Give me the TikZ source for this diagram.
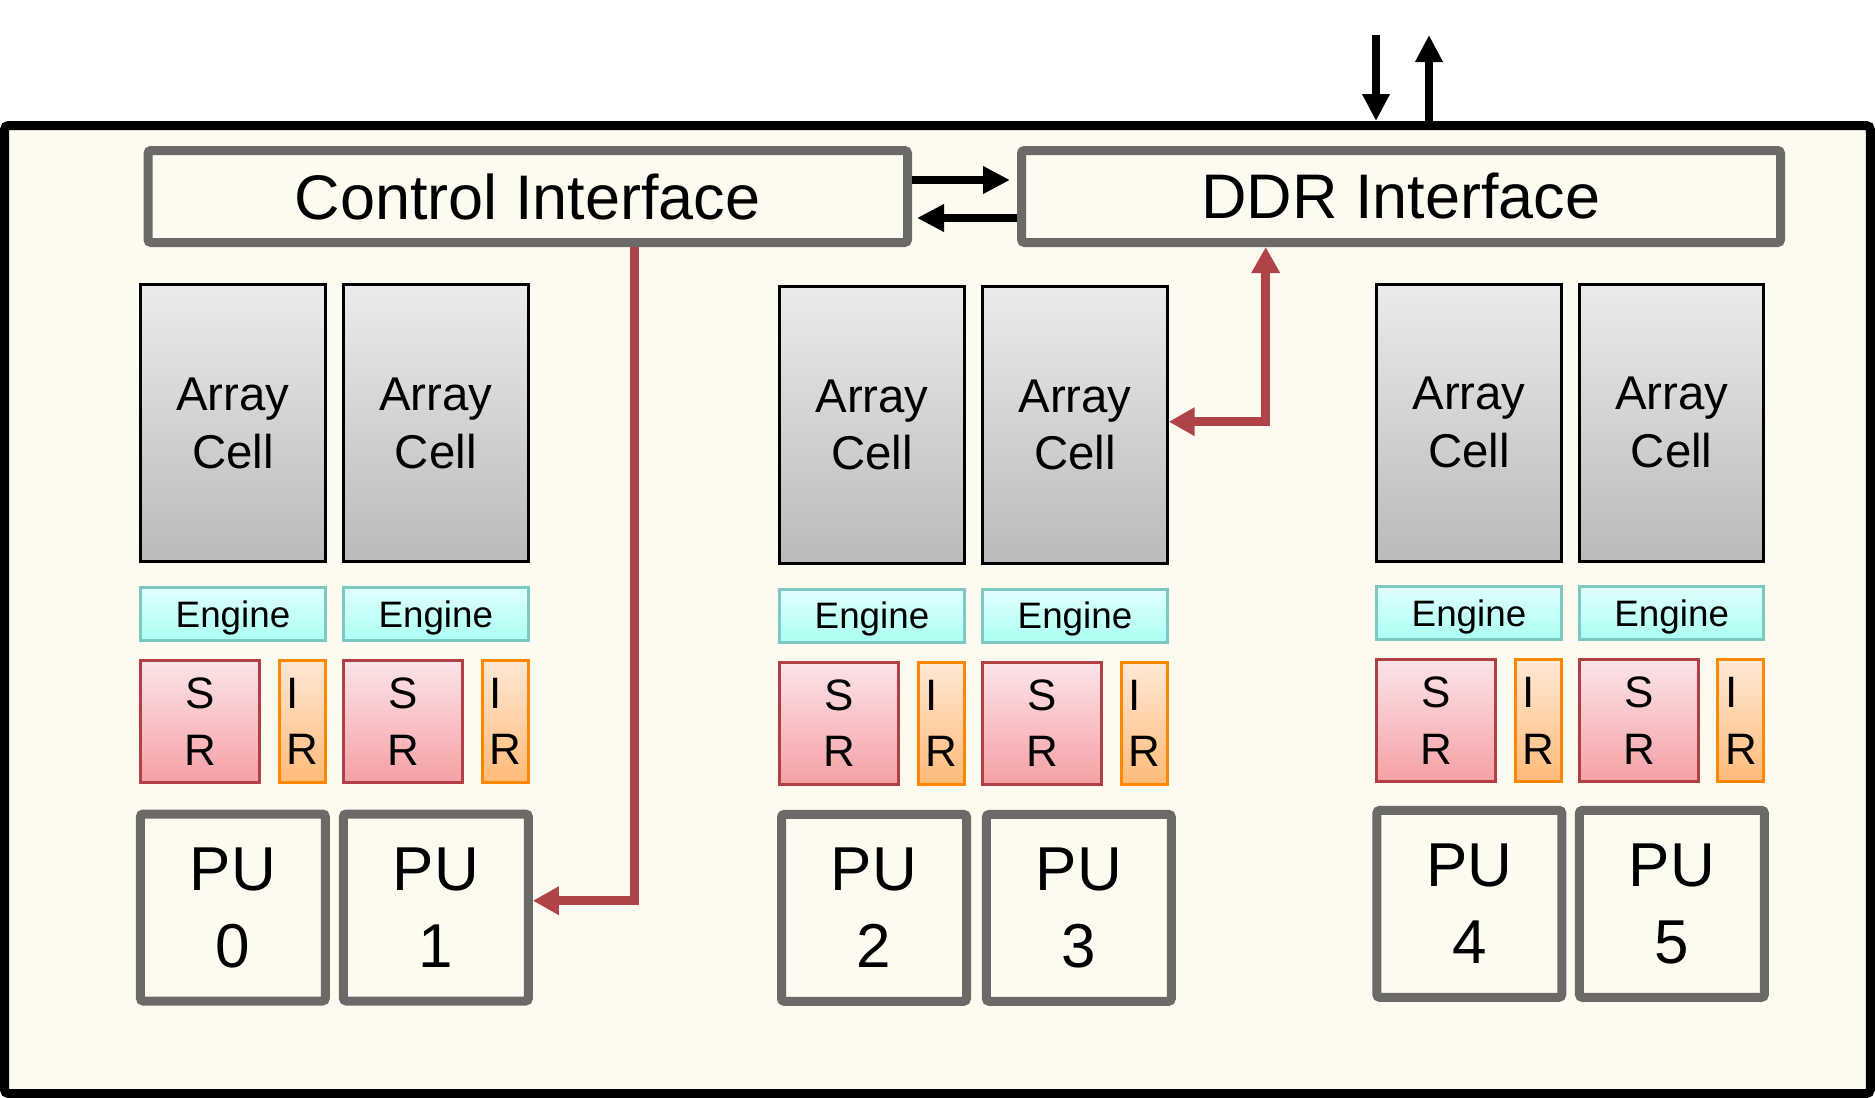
\documentclass[tikz,border=0pt]{standalone}
\usepackage{fontspec}
\setmainfont{Liberation Sans}
\usetikzlibrary{arrows.meta}
\definecolor{bgc}{RGB}{253,250,240}
\definecolor{framec}{RGB}{107,106,102}
\definecolor{redl}{RGB}{175,67,72}
\definecolor{cellT}{RGB}{235,235,235}
\definecolor{cellB}{RGB}{186,186,186}
\definecolor{engT}{RGB}{225,255,255}
\definecolor{engB}{RGB}{170,255,242}
\definecolor{engD}{RGB}{125,200,192}
\definecolor{srT}{RGB}{252,228,232}
\definecolor{srB}{RGB}{245,160,165}
\definecolor{srD}{RGB}{176,64,70}
\definecolor{irT}{RGB}{255,232,214}
\definecolor{irB}{RGB}{255,186,120}
\definecolor{irD}{RGB}{255,136,0}
\begin{document}
\begin{tikzpicture}[x=0.5pt,y=-0.5pt,
  chipbox/.style={draw=black,line width=4.5pt,fill=bgc,rounded corners=2pt,inner sep=0pt},
  ifbox/.style={draw=framec,line width=4.5pt,fill=bgc,rounded corners=1.5pt,inner sep=0pt,
    minimum height=46pt,font=\fontsize{31.5pt}{38pt}\selectfont},
  cellbox/.style={draw=black,line width=1.5pt,top color=cellT,bottom color=cellB,
    minimum width=92.2pt,minimum height=138.5pt,inner sep=0pt,align=center,
    font=\fontsize{23.7pt}{28.8pt}\selectfont},
  engbox/.style={draw=engD,line width=1.5pt,top color=engT,bottom color=engB,
    minimum width=92.2pt,minimum height=26.5pt,inner sep=0pt,text depth=0pt,
    font=\fontsize{18.4pt}{22pt}\selectfont},
  srbox/.style={draw=srD,line width=1.5pt,top color=srT,bottom color=srB,
    minimum width=59.5pt,minimum height=61pt,inner sep=0pt,align=center,
    font=\fontsize{22pt}{28.3pt}\selectfont},
  irbox/.style={draw=irD,line width=1.5pt,top color=irT,bottom color=irB,
    minimum width=23pt,minimum height=61pt,inner sep=0pt,align=left,
    font=\fontsize{22pt}{28.3pt}\selectfont},
  pubox/.style={draw=framec,line width=4.5pt,fill=bgc,rounded corners=1.5pt,
    minimum width=92.5pt,minimum height=93.5pt,inner sep=0pt,align=center,
    font=\fontsize{31pt}{38.5pt}\selectfont},
  blk/.style={line width=4.3pt,-{Triangle[length=13.5pt,width=13pt]}},
  redarr/.style={draw=redl,line width=4.3pt},
  rtip/.tip={Triangle[length=13pt,width=13.5pt]}
]
\useasboundingbox (0,0) rectangle (1875,1098);

% outer chip
\node[chipbox,minimum width=932.9pt,minimum height=484pt] (chip) at (937.4,609.5) {};

% interfaces
\node[ifbox,minimum width=379.75pt] (ctrl) at (527.75,196.5) {Control Interface};
\node[ifbox,minimum width=379.5pt] (ddr) at (1401,196.5) {DDR Interface};

% columns
\foreach \i/\cx/\cy in {0/233/423.3,1/435.8/423.3,2/872/425,3/1075/425,4/1469/422.7,5/1671.7/422.7}{
  \node[cellbox] (cell\i) at (\cx,\cy) {Array\\Cell};
  \node[engbox] (eng\i) at (\cx,\cy+190.5) {Engine};
  \node[srbox] (sr\i) at (\cx-32.7,\cy+298.2) {S\\R};
  \node[irbox] (ir\i) at (\cx+69.2,\cy+298.2) {I\\R};
}

% processing units
\node[pubox] (PU0) at (232.85,907.5) {PU\\0};
\node[pubox] (PU1) at (435.9,907.5) {PU\\1};
\node[pubox] (PU2) at (874,907.85) {PU\\2};
\node[pubox] (PU3) at (1078.85,907.85) {PU\\3};
\node[pubox] (PU4) at (1469.3,903.85) {PU\\4};
\node[pubox] (PU5) at (1671.9,903.85) {PU\\5};

% black arrows between interfaces
\coordinate (a1) at (0,180);
\coordinate (a2) at (0,218);
\draw[blk,shorten >=3.5pt] (ctrl.east |- a1) -- (ddr.west |- a1);
\draw[blk,shorten >=2.5pt] (ddr.west |- a2) -- (ctrl.east |- a2);

% external DDR arrows
\coordinate (din) at (1376,35);
\coordinate (dout) at (1429,35);
\draw[blk] (din) -- (chip.north -| din);
\draw[blk] (chip.north -| dout) -- (dout);

% red arrows
\coordinate (r1) at (634.5,900.7);
\draw[redarr,-rtip] (ctrl.south -| r1) -- (r1) -- (PU1.east |- r1);
\coordinate (r2) at (1265.7,421.7);
\draw[redarr,rtip-rtip] (cell3.east |- r2) -- (r2) -- (ddr.south -| r2);
\end{tikzpicture}
\end{document}
